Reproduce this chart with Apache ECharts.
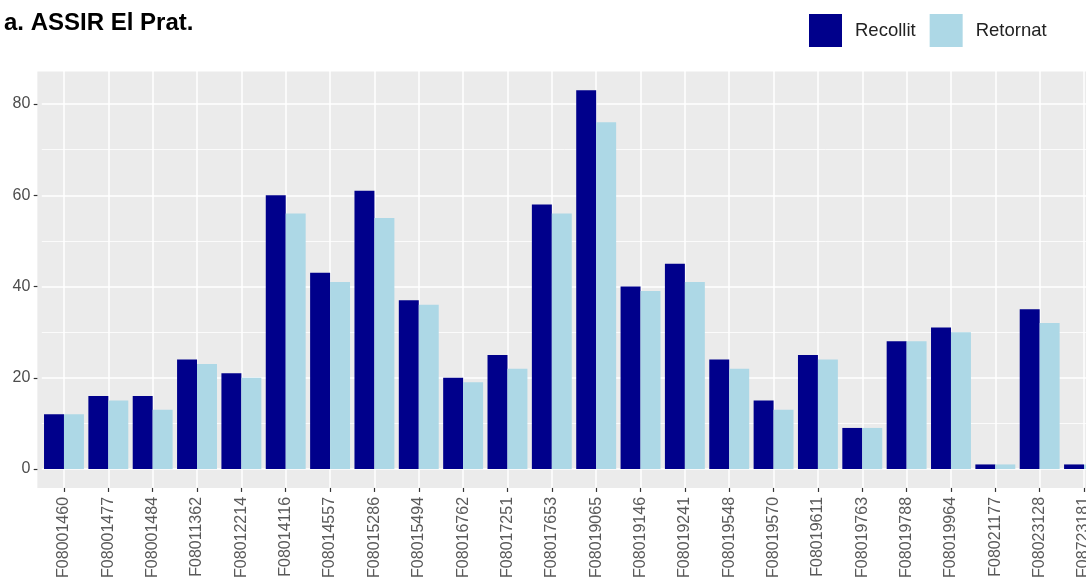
<!DOCTYPE html>
<html><head><meta charset="utf-8">
<script src="https://cdn.jsdelivr.net/npm/echarts@6/dist/echarts.min.js"></script>
<style>html,body{margin:0;padding:0;background:#fff}#c{width:1086px;height:578px}</style>
</head><body><div id="c"></div>
<script>
const titleText = 'a. ASSIR El Prat.';
const seriesNames = ['Recollit', 'Retornat'];
const categories = ['F08001460','F08001477','F08001484','F08011362','F08012214','F08014116','F08014557','F08015286','F08015494','F08016762','F08017251','F08017653','F08019065','F08019146','F08019241','F08019548','F08019570','F08019611','F08019763','F08019788','F08019964','F08021177','F08023128','F08723181'];
const recollit = [12,16,16,24,21,60,43,61,37,20,25,58,83,40,45,24,15,25,9,28,31,1,35,1];
const retornat = [12,15,13,23,20,56,41,55,36,19,22,56,76,39,41,22,13,24,9,28,30,1,32,1];
const yTicks = [0,20,40,60,80];

const FONT = '"Liberation Sans", Arial, sans-serif';
const chart = echarts.init(document.getElementById('c'), null, {renderer: 'canvas'});
const option = {
  backgroundColor: '#ffffff',
  animation: false,
  title: {
    text: titleText, left: 4, top: 11, padding: 0,
    textStyle: {fontFamily: FONT, fontWeight: 'bold', fontSize: 24, color: '#000'}
  },
  legend: {
    data: seriesNames, left: 809, top: 14, padding: 0,
    itemWidth: 33, itemHeight: 33, itemGap: 14, icon: 'rect',
    textStyle: {fontFamily: FONT, fontSize: 18.5, color: '#222', padding: [0, 0, 0, 8]}
  },
  grid: {left: 41.8, width: 1064.4, top: 12.75, height: 547.5, containLabel: false, outerBoundsMode: 'none'},
  xAxis: {
    type: 'category', data: categories, boundaryGap: true,
    position: 'bottom', offset: -72.3,
    axisLine: {show: false, onZero: false},
    axisTick: {show: true, alignWithLabel: true, length: 4, lineStyle: {color: '#333', width: 1.2}},
    axisLabel: {interval: 0, rotate: 90, margin: 9, fontFamily: FONT, fontSize: 16, color: '#595959'},
    splitLine: {show: true, alignWithLabel: true, interval: 0, lineStyle: {color: '#fff', width: 1.5}}
  },
  yAxis: {
    type: 'value', min: -20, max: 100, interval: 20, position: 'left', offset: 4.4,
    axisLine: {show: false},
    axisTick: {show: true, customValues: yTicks, length: 3.7, lineStyle: {color: '#333', width: 1.2}},
    axisLabel: {customValues: yTicks, margin: 7, fontFamily: FONT, fontSize: 16, color: '#4D4D4D'},
    splitLine: {show: true, lineStyle: {color: '#fff', width: 1.5}},
    minorTick: {show: false, splitNumber: 2},
    minorSplitLine: {show: true, lineStyle: {color: '#fff', width: 0.8}}
  },
  series: [
    {name: seriesNames[0], type: 'bar', data: recollit, barGap: '0%', barCategoryGap: '10%', itemStyle: {color: '#00008B'}},
    {name: seriesNames[1], type: 'bar', data: retornat, barGap: '0%', barCategoryGap: '10%', itemStyle: {color: '#ADD8E6'}}
  ]
};
chart.setOption(option);
// panel background (ggplot-style expansion: 0.6 category, 5% of value range)
const p0 = chart.convertToPixel({gridIndex: 0}, [0, 0]);
const p1 = chart.convertToPixel({gridIndex: 0}, [1, 0]);
const band = p1[0] - p0[0];
const vmax = Math.max(...recollit, ...retornat);
const yTop = chart.convertToPixel({gridIndex: 0}, [0, vmax * 1.05])[1];
const yBot = chart.convertToPixel({gridIndex: 0}, [0, -vmax * 0.05])[1];
const xL = p0[0] - 0.6 * band;
const xR = p0[0] + (categories.length - 1 + 0.6) * band;
chart.setOption({
  graphic: [{type: 'rect', z: -100, silent: true,
    shape: {x: xL, y: yTop, width: xR - xL, height: yBot - yTop},
    style: {fill: '#EBEBEB'}}]
});
</script></body></html>
